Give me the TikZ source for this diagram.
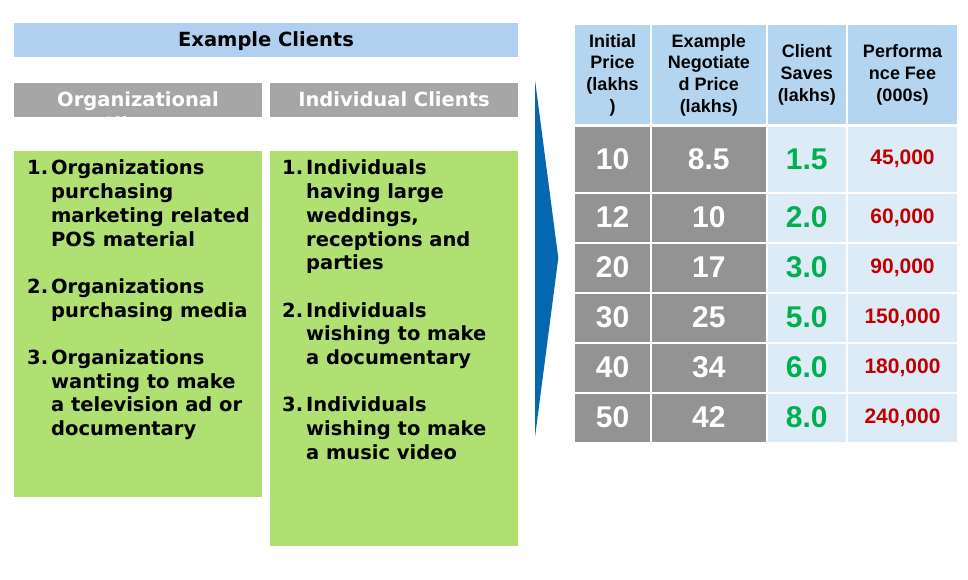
\documentclass[tikz,border=0pt]{standalone}
\usepackage{fontspec}
\setmainfont{Liberation Sans}
\newfontfamily\verdana{DejaVu Sans}
\definecolor{exblue}{HTML}{AFD0EE}
\definecolor{headblue}{HTML}{B4D5EF}
\definecolor{headgrey}{HTML}{A6A6A6}
\definecolor{listgreen}{HTML}{B0DF72}
\definecolor{cellgrey}{HTML}{939393}
\definecolor{celllight}{HTML}{DDEBF7}
\definecolor{arrowblue}{HTML}{0567AF}
\definecolor{savegreen}{HTML}{00B050}
\definecolor{feered}{HTML}{C00000}
\begin{document}
\begin{tikzpicture}[x=1pt, y=-1pt,
    bar/.style={font=\verdana\bfseries\fontsize{19.5}{24}\selectfont, anchor=base},
    list/.style={font=\verdana\bfseries\fontsize{19.5}{23.7}\selectfont, anchor=base west, inner sep=0pt},
    cell/.style={rectangle, draw=white, line width=2pt, inner sep=0pt},
    headcell/.style={cell, fill=headblue, align=center, minimum height=101,
      font=\bfseries\fontsize{18}{21.7}\selectfont},
    numcell/.style={cell, font=\bfseries\fontsize{30}{36}\selectfont}]
  \useasboundingbox (0,0) rectangle (968,580);

  % left side: clients
  \fill[exblue] (14,23) rectangle (518,57);
  \node[bar] (exTitle) at (266,47) {Example Clients};
  \fill[headgrey] (14,83) rectangle (262,117);
  \fill[headgrey] (270,83) rectangle (518,117);
  \begin{scope}
    \clip (14,83) rectangle (262,117);
    \node[bar, text=white] (orgHead) at (138,107) {Organizational};
    \node[bar, text=white] (orgHead2) at (138,132) {Clients};
  \end{scope}
  \node[bar, text=white] (indHead) at (394,107) {Individual Clients};
  \fill[listgreen] (14,151) rectangle (262,497);
  \fill[listgreen] (270,151) rectangle (518,546);
  \node[list] (orgList) at (27,175) {\begin{tabular}[t]{@{}l@{\hspace{3pt}}l@{}}
    1. & Organizations\\
       & purchasing\\
       & marketing related\\
       & POS material\\
       & \\
    2. & Organizations\\
       & purchasing media\\
       & \\
    3. & Organizations\\
       & wanting to make\\
       & a television ad or\\
       & documentary
  \end{tabular}};
  \node[list] (indList) at (282,175) {\begin{tabular}[t]{@{}l@{\hspace{3pt}}l@{}}
    1. & Individuals\\
       & having large\\
       & weddings,\\
       & receptions and\\
       & parties\\
       & \\
    2. & Individuals\\
       & wishing to make\\
       & a documentary\\
       & \\
    3. & Individuals\\
       & wishing to make\\
       & a music video
  \end{tabular}};

  % chevron
  \fill[arrowblue] (535,80) -- (558.3,258) -- (535,437) -- cycle;

  % table
  \node[headcell, minimum width=77] (h1) at (612.5,75) {Initial\\Price\\(lakhs\\)};
  \node[headcell, minimum width=115.5] (h2) at (708.75,75) {Example\\Negotiate\\d Price\\(lakhs)};
  \node[headcell, minimum width=80.5] (h3) at (806.75,75) {Client\\Saves\\(lakhs)};
  \node[headcell, minimum width=111] (h4) at (902.5,75) {Performa\\nce Fee\\(000s)};
  \foreach \cy/\ch/\pInit/\pNeg/\pSave/\pFee [count=\r] in
      {159.25/66.5/10/8.5/1.5/45{,}000, 217.5/50/12/10/2.0/60{,}000,
       267.5/50/20/17/3.0/90{,}000, 317.5/50/30/25/5.0/150{,}000,
       367.5/50/40/34/6.0/180{,}000, 417.5/50/50/42/8.0/240{,}000} {
    \node[numcell, fill=cellgrey, text=white, minimum width=77, minimum height=\ch] (a\r) at (612.5,\cy) {\pInit};
    \node[numcell, fill=cellgrey, text=white, minimum width=115.5, minimum height=\ch] (b\r) at (708.75,\cy) {\pNeg};
    \node[numcell, fill=celllight, text=savegreen, minimum width=80.5, minimum height=\ch] (c\r) at (806.75,\cy) {\pSave};
    \node[cell, fill=celllight, text=feered, minimum width=111, minimum height=\ch,
      font=\bfseries\fontsize{21}{25}\selectfont] (d\r) at (902.5,\cy) {\pFee};
  }
\end{tikzpicture}
\end{document}
